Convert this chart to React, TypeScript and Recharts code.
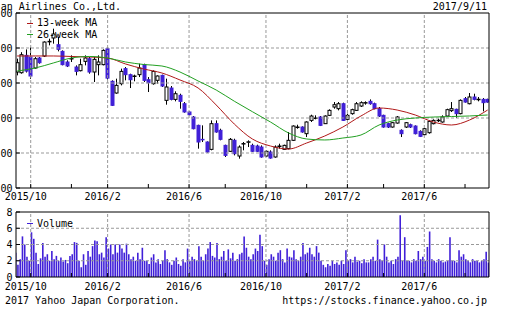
import React from 'react';
import { ComposedChart, Bar, Line, XAxis, YAxis, ReferenceLine, Legend } from 'recharts';

const FONT = '"DejaVu Sans Mono", monospace';
const BLUE = '#4020d8';
const RED = '#b01818';
const GREEN = '#22a022';
const GRID = '#999';
const SHIFT = 24; // the picture is cropped on the left

// weekly candles, first week starts 2015/9/14
const START = new Date(2015, 8, 14);
const open = [
  4157, 4147, 4395, 4370, 4214, 4357, 4385, 4590, 4643, 4547, 4452, 4300, 4345, 4228, 4176, 4309, 4347, 4157, 4262, 4262,
  4490, 4024, 3857, 3990, 4205, 4119, 4095, 4119, 4262, 4047, 3990, 4038, 4109, 3752, 3928, 3766, 3824, 3704, 3586, 3514,
  3395, 3195, 3157, 3052, 3419, 3324, 3109, 3024, 3181, 2957, 3130, 3155, 3109, 3100, 3085, 2957, 3014, 2943, 3095, 3052,
  3062, 3181, 3366, 3371, 3276, 3466, 3495, 3514, 3419, 3538, 3657, 3633, 3704, 3481, 3562, 3609, 3671, 3715, 3738, 3704,
  3633, 3538, 3419, 3371, 3428, 3324, 3371, 3404, 3385, 3309, 3262, 3290, 3419, 3462, 3443, 3528, 3605, 3624, 3562, 3776,
  3704, 3800, 3762, 3766, 3766,
];
const high = [
  4348, 4440, 4480, 4514, 4371, 4371, 4595, 4633, 4776, 4657, 4466, 4324, 4395, 4252, 4347, 4395, 4371, 4371, 4395, 4481,
  4514, 4038, 4062, 4205, 4228, 4133, 4119, 4276, 4276, 4085, 4181, 4109, 4119, 4062, 3957, 3881, 3847, 3728, 3595, 3528,
  3404, 3395, 3166, 3466, 3466, 3347, 3119, 3214, 3204, 3109, 3157, 3181, 3133, 3119, 3109, 3038, 3038, 3109, 3133, 3119,
  3300, 3395, 3404, 3381, 3452, 3547, 3538, 3528, 3538, 3624, 3728, 3728, 3719, 3562, 3633, 3728, 3738, 3738, 3766, 3719,
  3657, 3547, 3433, 3443, 3528, 3338, 3443, 3419, 3395, 3324, 3357, 3466, 3481, 3490, 3538, 3633, 3728, 3633, 3766, 3800,
  3857, 3847, 3800, 3785, 3776,
];
const low = [
  4109, 4133, 4150, 4060, 4205, 4276, 4371, 4538, 4562, 4452, 4252, 4228, 4300, 4109, 4166, 4252, 4133, 4014, 4109, 4252,
  4050, 3671, 3847, 3966, 4038, 3928, 4024, 4085, 4014, 3871, 3976, 3990, 3943, 3690, 3752, 3738, 3633, 3576, 3538, 3338,
  3062, 3157, 3005, 3038, 3290, 3181, 2943, 3014, 2966, 2919, 3038, 3085, 3014, 3014, 2933, 2943, 2919, 2933, 3062, 3043,
  3052, 3171, 3347, 3290, 3228, 3443, 3481, 3385, 3414, 3528, 3633, 3609, 3457, 3466, 3547, 3600, 3657, 3690, 3690, 3624,
  3514, 3362, 3357, 3362, 3419, 3228, 3357, 3357, 3266, 3228, 3252, 3276, 3409, 3443, 3433, 3514, 3586, 3500, 3552, 3719,
  3695, 3752, 3738, 3595, 3719,
];
const close = [
  4290, 4404, 4170, 4100, 4347, 4290, 4585, 4595, 4700, 4481, 4262, 4243, 4350, 4166, 4262, 4357, 4157, 4338, 4300, 4466,
  4070, 3681, 3966, 4166, 4119, 4047, 4100, 4214, 4038, 4004, 4166, 4100, 3957, 3943, 3766, 3847, 3738, 3586, 3547, 3347,
  3157, 3190, 3014, 3419, 3300, 3195, 2966, 3195, 2990, 3085, 3135, 3160, 3024, 3024, 2943, 3024, 2928, 3085, 3100, 3109,
  3181, 3385, 3371, 3300, 3443, 3528, 3500, 3395, 3528, 3609, 3690, 3704, 3466, 3538, 3619, 3704, 3719, 3720, 3704, 3633,
  3528, 3371, 3371, 3433, 3514, 3276, 3433, 3371, 3276, 3238, 3347, 3452, 3466, 3468, 3514, 3619, 3633, 3562, 3752, 3728,
  3800, 3766, 3768, 3719, 3728,
];

// moving averages read every 4th week
const ma13 = [4386, 4386, 4386, 4379, 4371, 4357, 4271, 4200, 4143, 4043, 3929, 3686, 3414, 3200, 3100, 3057, 3143, 3243, 3371, 3529, 3643, 3614, 3543, 3443, 3400, 3471, 3614];
const ma26 = [4171, 4214, 4286, 4357, 4379, 4357, 4300, 4264, 4243, 4157, 4029, 3900, 3740, 3590, 3443, 3286, 3200, 3186, 3214, 3257, 3400, 3471, 3500, 3514, 3521, 3529, 3543];

// volume (million shares), two readings per week
const volume = [
  3.0, 1.5, 2.2, 5.0, 4.0, 2.5, 2.0, 5.5, 4.7, 3.0, 1.6, 2.3, 4.2, 2.5, 2.8, 2.0, 3.2, 2.2, 2.6, 2.0,
  2.4, 1.9, 2.1, 1.7, 2.6, 2.8, 4.3, 4.2, 2.0, 1.2, 2.8, 1.5, 3.2, 2.5, 3.8, 4.5, 4.4, 2.8, 3.0, 2.4,
  4.9, 3.5, 4.0, 2.8, 4.0, 3.0, 4.0, 3.5, 3.0, 4.1, 2.8, 2.2, 2.5, 2.0, 3.0, 2.2, 3.6, 2.0, 2.0, 1.6,
  2.4, 2.8, 1.8, 2.2, 1.6, 2.0, 3.3, 2.2, 1.8, 1.5, 2.0, 2.4, 1.6, 1.4, 2.2, 1.8, 3.5, 2.0, 2.5, 2.2,
  2.0, 3.8, 2.5, 2.0, 2.8, 3.5, 4.3, 2.6, 2.4, 4.2, 2.2, 2.5, 3.2, 2.0, 3.4, 2.3, 3.0, 2.0, 2.2, 2.8,
  3.0, 5.0, 3.6, 2.5, 2.2, 2.8, 3.5, 3.2, 5.2, 3.8, 2.0, 1.5, 2.2, 2.8, 2.5, 2.0, 3.0, 3.3, 2.2, 1.8,
  3.5, 2.5, 2.4, 3.3, 2.2, 2.0, 2.5, 4.2, 2.8, 3.0, 3.6, 2.8, 2.5, 3.8, 3.0, 2.0, 1.5, 1.2, 1.6, 1.4,
  2.0, 1.6, 1.8, 1.5, 2.0, 1.6, 3.3, 2.0, 2.2, 1.8, 2.5, 1.9, 2.0, 1.7, 2.2, 1.8, 1.8, 2.2, 2.5, 2.0,
  4.6, 2.2, 2.0, 4.0, 2.5, 1.8, 2.0, 1.6, 2.2, 2.5, 7.6, 2.0, 4.9, 2.0, 2.0, 1.8, 2.2, 2.0, 3.2, 2.2,
  2.5, 2.0, 3.7, 5.6, 2.2, 2.0, 1.8, 2.2, 2.0, 1.8, 1.9, 2.0, 4.9, 2.0, 2.0, 1.8, 3.3, 2.5, 2.8, 2.2,
  2.0, 1.8, 2.2, 2.0, 2.0, 1.8, 2.0, 2.2, 3.1, 1.8,
];

const tickMonths = ['2015/10', '2015/12', '2016/2', '2016/4', '2016/6', '2016/8', '2016/10', '2016/12', '2017/2', '2017/4', '2017/6', '2017/8'];
const labelMonths = ['2015/10', '2016/2', '2016/6', '2016/10', '2017/2', '2017/6'];
const priceTicks = [2500, 3000, 3500, 4000, 4500, 5000];
const priceGrid = [3000, 3500, 4000, 4500];
const volTicks = [0, 2, 4, 6, 8];
const volGrid = [2, 4, 6];

const weekKey = (i: number) => {
  const d = new Date(START.getFullYear(), START.getMonth(), START.getDate() + 7 * i);
  return `${d.getFullYear()}/${d.getMonth() + 1}`;
};
const tickIdx = tickMonths.map((m) => open.findIndex((_, i) => weekKey(i) === m));
const labelIdx = labelMonths.map((m) => tickIdx[tickMonths.indexOf(m)]);

const candles = open.map((o, i) => ({
  i,
  open: o,
  high: high[i],
  low: low[i],
  close: close[i],
  range: [low[i], high[i]],
  ma13: i % 4 === 0 ? ma13[i / 4] : null,
  ma26: i % 4 === 0 ? ma26[i / 4] : null,
}));
const volData = volume.map((v, k) => ({ t: Math.floor(k / 2) + (k % 2 ? 0.25 : -0.25), v }));

const X_DOMAIN: [number, number] = [-0.25, 104.3];
const W = 508 + SHIFT;

const Candle = (props: any) => {
  const { x, y, width, height, payload } = props;
  if (!payload) return null;
  const { open: o, close: c, high: h, low: l } = payload;
  const cx = Math.round(x + width / 2) + 0.5;
  const k = h > l ? Math.abs(height) / (h - l) : 0;
  const top = y + (h - Math.max(o, c)) * k;
  const bot = y + (h - Math.min(o, c)) * k;
  const up = c >= o;
  return (
    <g>
      <line x1={cx} x2={cx} y1={y} y2={y + Math.abs(height)} stroke="#000" />
      <rect
        x={cx - 1.5}
        y={top}
        width={3}
        height={Math.max(bot - top, 0.5)}
        fill={up ? '#fff' : BLUE}
        stroke={up ? '#000' : BLUE}
      />
    </g>
  );
};

const MonthTick = (props: any) => {
  const { x, y, payload, dy } = props;
  if (!labelIdx.includes(payload.value)) return null;
  return (
    <text x={x - 5} y={y + dy} textAnchor="middle" fontFamily={FONT} fontSize={10} fill="#000">
      {tickMonths[tickIdx.indexOf(payload.value)]}
    </text>
  );
};

const LegendBox = (props: any) => (
  <div style={{ fontFamily: FONT, fontSize: 10, lineHeight: '11.5px', color: '#000' }}>
    {(props.payload || [])
      .filter((e: any) => e.type !== 'none' && e.dataKey !== 'range')
      .map((e: any) => (
        <div key={e.value} style={{ display: 'flex', alignItems: 'center', whiteSpace: 'nowrap' }}>
          <span style={{ display: 'inline-block', width: 6, height: 1, background: e.color, marginRight: 4 }} />
          {e.value}
        </div>
      ))}
  </div>
);

const axisText = { fontFamily: FONT, fontSize: 10, fill: '#000' };
// only the last two digits of the price labels are inside the cropped picture
const cropLabel = (v: number) => String(v).slice(-2);

export default function App() {
  return (
    <div style={{ position: 'fixed', left: 0, top: 0, width: 508, height: 310, overflow: 'hidden', background: '#fff' }}>
      <div style={{ position: 'absolute', left: -SHIFT, top: 0, width: W, height: 310 }}>
        <div style={{ position: 'absolute', left: 0, top: 0 }}>
          <ComposedChart width={W} height={205} data={candles} margin={{ top: 13, right: 19, bottom: 0, left: 0 }}>
            {labelIdx.map((v) => (
              <ReferenceLine key={'v' + v} x={v} stroke={GRID} strokeDasharray="3 2" />
            ))}
            {priceGrid.map((v) => (
              <ReferenceLine key={'h' + v} y={v} stroke={GRID} strokeDasharray="3 2" />
            ))}
            <XAxis
              dataKey="i"
              type="number"
              domain={X_DOMAIN}
              allowDataOverflow
              ticks={tickIdx}
              interval={0}
              height={17}
              tickSize={-4}
              tickMargin={0}
              stroke="#000"
              tick={<MonthTick dy={16} />}
            />
            <XAxis xAxisId="t" orientation="top" mirror type="number" domain={X_DOMAIN} allowDataOverflow ticks={tickIdx} interval={0} tickSize={4} tick={false} stroke="#000" />
            <YAxis
              type="number"
              domain={[2500, 5000]}
              allowDataOverflow
              ticks={priceTicks}
              interval={0}
              width={40}
              tickSize={-4}
              tickMargin={7.5}
              stroke="#000"
              tick={axisText}
              tickFormatter={cropLabel}
            />
            <YAxis yAxisId="r" orientation="right" mirror type="number" domain={[2500, 5000]} allowDataOverflow ticks={priceTicks} interval={0} tickSize={4} tick={false} stroke="#000" />
            <Bar dataKey="range" shape={<Candle />} barSize={4} isAnimationActive={false} legendType="none" />
            <Line dataKey="ma13" name="13-week MA" type="monotone" stroke={RED} strokeWidth={1} dot={false} connectNulls isAnimationActive={false} />
            <Line dataKey="ma26" name="26-week MA" type="monotone" stroke={GREEN} strokeWidth={1} dot={false} connectNulls isAnimationActive={false} />
            <Legend
              layout="vertical"
              align="center"
              verticalAlign="middle"
              content={<LegendBox />}
              wrapperStyle={{ left: 51, top: 17.3, width: 'auto', height: 'auto' }}
            />
          </ComposedChart>
        </div>
        <div style={{ position: 'absolute', left: 0, top: 205 }}>
          <ComposedChart width={W} height={96} data={volData} margin={{ top: 7, right: 19, bottom: 0, left: 0 }}>
            {labelIdx.map((v) => (
              <ReferenceLine key={'v' + v} x={v} stroke={GRID} strokeDasharray="3 2" />
            ))}
            {volGrid.map((v) => (
              <ReferenceLine key={'h' + v} y={v} stroke={GRID} strokeDasharray="3 2" />
            ))}
            <XAxis
              dataKey="t"
              type="number"
              domain={X_DOMAIN}
              allowDataOverflow
              ticks={tickIdx}
              interval={0}
              height={24}
              tickSize={-4}
              tickMargin={0}
              stroke="#000"
              tick={<MonthTick dy={17} />}
            />
            <XAxis xAxisId="t" orientation="top" mirror type="number" domain={X_DOMAIN} allowDataOverflow ticks={tickIdx} interval={0} tickSize={4} tick={false} stroke="#000" />
            <YAxis
              type="number"
              domain={[0, 8]}
              allowDataOverflow
              ticks={volTicks}
              interval={0}
              width={40}
              tickSize={-4}
              tickMargin={7.5}
              stroke="#000"
              tick={axisText}
            />
            <YAxis yAxisId="r" orientation="right" mirror type="number" domain={[0, 8]} allowDataOverflow ticks={volTicks} interval={0} tickSize={4} tick={false} stroke="#000" />
            <Bar dataKey="v" name="Volume" fill={BLUE} barSize={1.6} isAnimationActive={false} />
            <Legend
              layout="vertical"
              align="center"
              verticalAlign="middle"
              content={<LegendBox />}
              wrapperStyle={{ left: 51, top: 12.5, width: 'auto', height: 'auto' }}
            />
          </ComposedChart>
        </div>
        <svg width={W} height={310} style={{ position: 'absolute', left: 0, top: 0, pointerEvents: 'none' }}>
          <text x={SHIFT + 0.7} y={10} fontFamily={FONT} fontSize={10} fill="#000">
            an Airlines Co.,Ltd.
          </text>
          <text x={SHIFT + 487} y={10} textAnchor="end" fontFamily={FONT} fontSize={10} fill="#000">
            2017/9/11
          </text>
          <text x={SHIFT + 5} y={303.5} fontFamily={FONT} fontSize={10} fill="#000">
            2017 Yahoo Japan Corporation.
          </text>
          <text x={SHIFT + 487} y={303.5} textAnchor="end" fontFamily={FONT} fontSize={10} fill="#000">
            https://stocks.finance.yahoo.co.jp
          </text>
        </svg>
      </div>
    </div>
  );
}
